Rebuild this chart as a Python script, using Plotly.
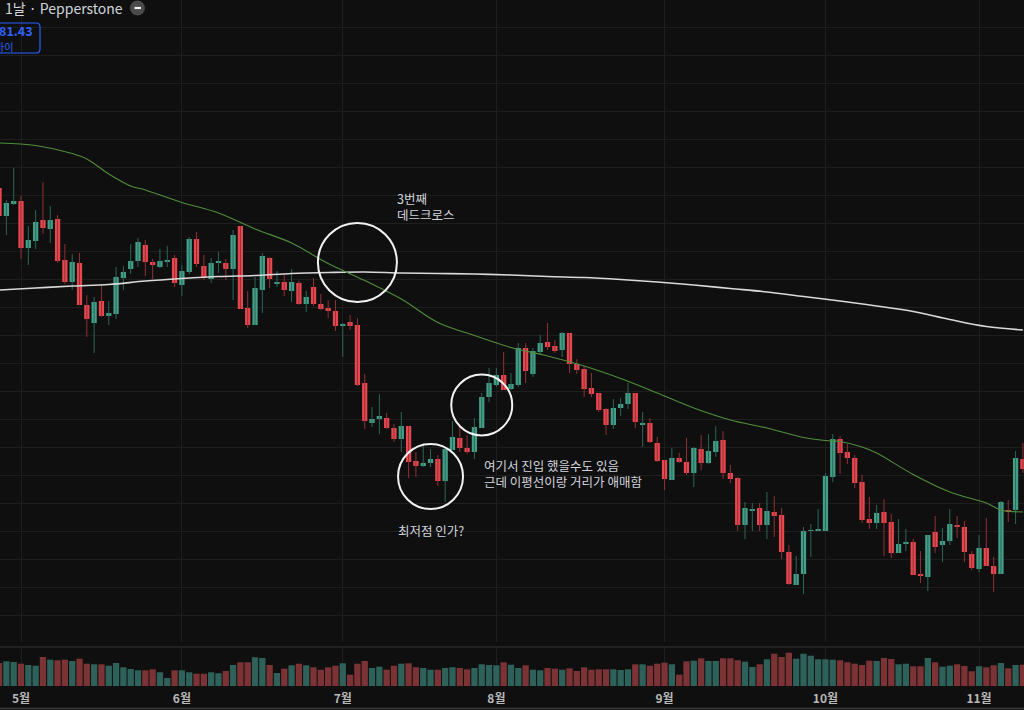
import pandas as pd
import plotly.graph_objects as go

# daily bars, weekdays from 2022-04-27 (price scale is hidden in the picture)
dates = pd.bdate_range("2022-04-27", periods=141)

opens = [512, 484, 496, 499, 452, 459, 480, 471, 481, 440,
         418, 437, 395, 377, 399, 384, 386, 422, 431, 439,
         455, 438, 433, 438, 442, 415, 428, 461, 434, 421,
         437, 437, 431, 474, 392, 375, 410, 442, 416, 418,
         409, 417, 396, 413, 396, 392, 389, 374, 378, 375,
         317, 277, 281, 282, 272, 261, 274, 239, 234, 237,
         241, 219, 250, 262, 252, 248, 272, 303, 315, 325,
         311, 315, 352, 326, 348, 358, 354, 350, 367, 336,
         331, 312, 307, 291, 275, 292, 296, 307, 275, 277,
         257, 240, 220, 242, 238, 227, 251, 237, 248, 260,
         227, 222, 175, 189, 192, 175, 188, 185, 148, 115,
         126, 169, 169, 169, 223, 261, 248, 242, 218, 181,
         177, 188, 178, 147, 156, 158, 126, 123, 168, 155,
         159, 175, 173, 146, 131, 152, 134, 126, 190, 190,
         241]
highs = [514, 500, 532, 504, 474, 490, 518, 494, 485, 456,
         446, 447, 405, 403, 415, 399, 433, 434, 456, 462,
         460, 441, 451, 454, 445, 435, 463, 468, 445, 442,
         448, 441, 470, 474, 409, 423, 447, 443, 429, 425,
         431, 419, 409, 422, 406, 400, 400, 377, 385, 382,
         326, 293, 306, 287, 276, 288, 274, 248, 257, 251,
         245, 251, 279, 273, 265, 282, 307, 332, 332, 348,
         327, 357, 357, 352, 365, 377, 360, 368, 367, 341,
         334, 327, 307, 292, 301, 302, 317, 307, 288, 282,
         263, 240, 252, 247, 262, 253, 265, 266, 274, 269,
         235, 223, 198, 197, 197, 208, 204, 192, 155, 144,
         173, 176, 191, 227, 266, 264, 256, 245, 225, 203,
         195, 201, 186, 181, 171, 161, 149, 165, 184, 172,
         191, 184, 179, 149, 165, 182, 143, 199, 200, 249,
         257]
lows = [482, 465, 495, 441, 435, 451, 466, 457, 437, 416,
        410, 395, 363, 347, 383, 375, 381, 410, 426, 433,
        424, 421, 432, 433, 413, 404, 426, 433, 420, 417,
        427, 420, 400, 391, 372, 375, 387, 412, 413, 404,
        398, 395, 388, 394, 390, 382, 369, 343, 370, 314,
        271, 273, 266, 271, 258, 248, 222, 223, 233, 233,
        214, 198, 250, 248, 246, 241, 272, 298, 313, 310,
        310, 313, 317, 323, 345, 350, 347, 343, 327, 326,
        303, 303, 288, 265, 271, 284, 291, 272, 253, 257,
        238, 210, 220, 237, 225, 213, 230, 236, 243, 221,
        217, 169, 161, 169, 169, 161, 163, 141, 115, 115,
        106, 143, 169, 169, 218, 226, 236, 212, 177, 171,
        171, 144, 142, 147, 149, 125, 117, 109, 147, 138,
        155, 162, 138, 130, 128, 134, 108, 126, 178, 176,
        227]
closes = [484, 497, 499, 452, 460, 478, 472, 480, 439, 418,
          438, 395, 381, 398, 384, 387, 423, 428, 439, 458,
          438, 435, 439, 440, 417, 429, 461, 436, 422, 437,
          439, 431, 465, 391, 375, 412, 444, 421, 418, 410,
          418, 396, 403, 396, 391, 389, 374, 376, 374, 315,
          279, 281, 284, 272, 261, 274, 238, 234, 237, 241,
          219, 251, 263, 252, 248, 273, 303, 317, 325, 310,
          316, 352, 329, 349, 357, 353, 349, 367, 336, 330,
          311, 306, 290, 275, 292, 296, 307, 278, 277, 258,
          239, 221, 242, 238, 227, 252, 237, 249, 259, 227,
          221, 175, 192, 191, 175, 189, 184, 148, 116, 126,
          169, 170, 171, 224, 261, 247, 242, 217, 180, 177,
          187, 177, 147, 156, 158, 125, 124, 165, 153, 159,
          176, 173, 148, 132, 152, 134, 126, 198, 188, 242,
          231]
volumes = [23, 24.7, 24, 22.3, 21, 20.3, 29, 26.3, 25.7, 26.3,
           25, 27.3, 22.3, 21.7, 21.7, 20.3, 23, 18.7, 17, 15.7,
           15.7, 16.7, 13.7, 8, 15.7, 15.7, 13.7, 12.3, 12.3, 13.7,
           12.7, 15, 21, 23.7, 23.7, 28.7, 28, 21, 13, 17.3,
           20.7, 22.3, 20.7, 18.7, 16.3, 18.7, 20.3, 22.7, 11.3, 22.3,
           25, 18, 19.3, 16.3, 20.3, 22.3, 22.7, 18.7, 18, 16.3,
           16.3, 18, 18.7, 18, 16.7, 18, 21.7, 21, 20.7, 23.7,
           21.3, 18, 20.7, 16.3, 15.7, 18, 17.3, 16.3, 17.7, 15,
           18.7, 16.3, 16.7, 16.7, 16.7, 16, 16.7, 21.7, 21.7, 20.3,
           22.3, 23.3, 21.7, 11.3, 24.7, 25.3, 27.7, 25, 25, 27.7,
           27.7, 25.7, 24.3, 19, 21.7, 26.7, 32.3, 29, 33.3, 27.3,
           32.3, 30.3, 26.7, 26.7, 26.3, 25.7, 23.7, 22.3, 21, 25.3,
           25, 28, 27, 21.7, 22.3, 19.7, 19.7, 28, 23.7, 19.3,
           20.3, 21.7, 20, 14.7, 19.7, 18.7, 20.7, 23, 17.7, 21,
           21.3]

# moving averages at a few bars
ma_fast_idx = [0, 5, 10, 12, 15, 18, 20, 25, 30, 35, 40, 45, 50, 55, 60, 65, 70,
               75, 80, 85, 90, 95, 100, 105, 110, 113, 115, 118, 120, 125, 130,
               135, 137, 140]
ma_fast = [557, 554.5, 546.5, 541, 526, 514, 510, 497.5, 487, 471, 457, 436.5,
           419.5, 401, 377.5, 364.5, 352.5, 344, 334, 321.5, 307, 292, 280, 272,
           262.5, 259.5, 258.5, 253, 247, 225.5, 208, 197, 190, 188]
ma_slow_idx = [0, 5, 10, 15, 20, 25, 30, 35, 40, 45, 50, 55, 60, 65, 70, 75, 80,
               85, 90, 95, 100, 105, 110, 115, 120, 125, 130, 135, 140]
ma_slow = [410, 412, 414, 415.5, 419, 421.5, 423.5, 424.5, 426.5, 427.5, 428,
           427, 426.5, 426, 425, 423.5, 422.5, 420.5, 418, 415, 411.5, 408,
           403.5, 399, 394, 388.5, 380.5, 373.5, 370]

BG = "#0f0f0f"
GRID = "#1e1e1e"
UP, DOWN = "#42a088", "#e8474f"
UP_WICK, DOWN_WICK = "#2d6658", "#913135"
UP_VOL, DOWN_VOL = "#2e6159", "#7c3335"
TEXT = "#d1d4dc"
FONT = "Noto Sans CJK KR"

W, H, B = 1024, 710, 24
PLOT_H = H - B


def px(x):
    return x / W


def py(y):
    return (PLOT_H - y) / PLOT_H


idx = list(range(len(dates)))
up = [c >= o for o, c in zip(opens, closes)]

fig = go.Figure()

# wicks
for flag, col in ((True, UP_WICK), (False, DOWN_WICK)):
    wx, wy = [], []
    for i in idx:
        if up[i] == flag:
            wx += [i, i, None]
            wy += [lows[i], highs[i], None]
    fig.add_trace(go.Scatter(x=wx, y=wy, mode="lines", hoverinfo="skip",
                             line=dict(color=col, width=1)))

# bodies
fig.add_trace(go.Bar(
    x=idx,
    base=[min(o, c) for o, c in zip(opens, closes)],
    y=[max(abs(c - o), 1) for o, c in zip(opens, closes)],
    width=0.72,
    marker=dict(color=[UP if u else DOWN for u in up], line=dict(width=0)),
    hoverinfo="skip",
))

fig.add_trace(go.Scatter(x=ma_slow_idx, y=ma_slow, mode="lines",
                         line=dict(color="#d9d9d9", width=1.6, shape="spline"),
                         hoverinfo="skip"))
fig.add_trace(go.Scatter(x=ma_fast_idx, y=ma_fast, mode="lines",
                         line=dict(color="#4f8f3a", width=1.1, shape="spline"),
                         hoverinfo="skip"))

# volume
fig.add_trace(go.Bar(
    x=idx, y=volumes, yaxis="y2", width=0.86,
    marker=dict(color=[UP_VOL if u else DOWN_VOL for u in up], line=dict(width=0)),
    hoverinfo="skip",
))

tickvals = [i for i in idx[1:] if dates[i].month != dates[i - 1].month]
ticktext = [f"{dates[i].month}월" for i in tickvals]

circles = [(49, 437.5, 39.5), (66, 295, 30.5), (59, 223.5, 32.5)]
shapes = []
for cx, cy, r in circles:
    shapes.append(dict(type="circle", xref="x", yref="y",
                       xsizemode="pixel", ysizemode="pixel",
                       xanchor=cx, yanchor=cy, x0=-r, x1=r, y0=-r, y1=r,
                       line=dict(color="#f2f2f2", width=2)))

# pane separator and bottom edge
shapes.append(dict(type="line", xref="paper", yref="paper", x0=0, x1=1,
                   y0=py(647), y1=py(647), line=dict(color="#2a2a2a", width=1.5)))
shapes.append(dict(type="line", xref="paper", yref="paper", x0=0, x1=1,
                   y0=py(708.5), y1=py(708.5), line=dict(color="#3a3a3a", width=1.5)))

# header: minus button and price box
shapes.append(dict(type="circle", xref="paper", yref="paper",
                   x0=px(130), x1=px(145), y0=py(15.5), y1=py(0.5),
                   fillcolor="#4a4a4a", line=dict(width=0)))
shapes.append(dict(type="line", xref="paper", yref="paper",
                   x0=px(134.5), x1=px(141), y0=py(8), y1=py(8),
                   line=dict(color="#f0f0f0", width=2.2)))
box = (f"M {px(-8)},{py(23)} L {px(36)},{py(23)} "
       f"Q {px(40)},{py(23)} {px(40)},{py(27)} L {px(40)},{py(49)} "
       f"Q {px(40)},{py(53)} {px(36)},{py(53)} L {px(-8)},{py(53)} Z")
shapes.append(dict(type="path", xref="paper", yref="paper", path=box,
                   line=dict(color="#2962ff", width=1.2)))

NOTE = dict(family=FONT, size=12.5, color=TEXT)
annotations = [
    dict(xref="paper", yref="paper", x=px(3), y=py(8), text="1날 · Pepperstone",
         xanchor="left", yanchor="middle", showarrow=False,
         font=dict(family=FONT, size=14, color=TEXT)),
    dict(xref="paper", yref="paper", x=px(-3), y=py(31), text="<b>81.43</b>",
         xanchor="left", yanchor="middle", showarrow=False,
         font=dict(family=FONT, size=12.5, color="#2f63ff")),
    dict(xref="paper", yref="paper", x=px(-7), y=py(46), text="바이",
         xanchor="left", yanchor="middle", showarrow=False,
         font=dict(family=FONT, size=10, color="#2f63ff")),
    dict(x=54.1, y=493.5, text="3번째<br>데드크로스", align="left",
         xanchor="left", yanchor="middle", showarrow=False, font=NOTE),
    dict(x=66.1, y=227, text="여기서 진입 했을수도 있음<br>근데 이평선이랑 거리가 애매함",
         align="left", xanchor="left", yanchor="middle", showarrow=False,
         font=NOTE),
    dict(x=54.3, y=169.5, text="최저점 인가?", align="left",
         xanchor="left", yanchor="middle", showarrow=False, font=NOTE),
]

fig.update_layout(
    width=W, height=H,
    margin=dict(l=0, r=0, t=0, b=B),
    paper_bgcolor=BG, plot_bgcolor=BG,
    showlegend=False,
    barmode="overlay",
    xaxis=dict(range=[0.128, 140.15], tickvals=tickvals, ticktext=ticktext,
               anchor="y2", showgrid=True, gridcolor=GRID, gridwidth=1,
               zeroline=False, showline=False, ticks="", fixedrange=True,
               ticklabelstandoff=4,
               tickfont=dict(family=FONT, size=12, color="#b8b8b8", weight="bold")),
    yaxis=dict(domain=[0.064, 1], range=[57.9, 700], tick0=365, dtick=28,
               showticklabels=False, showgrid=True, gridcolor=GRID,
               zeroline=False, fixedrange=True),
    yaxis2=dict(domain=[0, 0.057], range=[0, 39.1], anchor="x",
                showticklabels=False, showgrid=False, zeroline=False,
                fixedrange=True),
    shapes=shapes,
    annotations=annotations,
)

fig.write_html("out.html", config={"displayModeBar": False},
               post_script="document.body.style.margin='0';"
                           "document.body.style.background='#0f0f0f';")
